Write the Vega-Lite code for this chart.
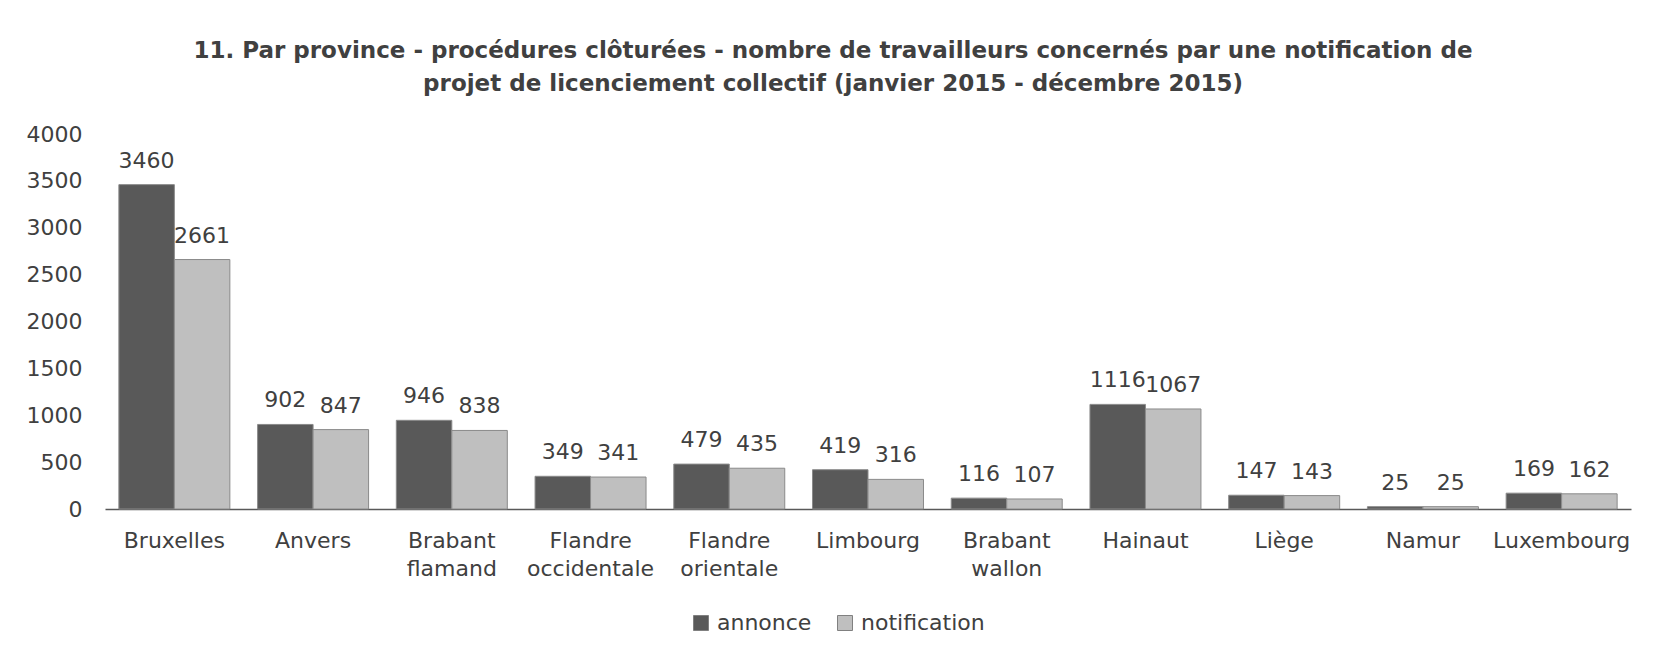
{
  "$schema": "https://vega.github.io/schema/vega-lite/v6.json",
  "width": 1526,
  "height": 375,
  "autosize": {"type": "none"},
  "padding": {"left": 105, "top": 134, "right": 22, "bottom": 148},
  "background": "white",
  "title": {
    "text": ["11. Par province - procédures clôturées - nombre de travailleurs concernés par une notification de", "projet de licenciement collectif (janvier 2015 - décembre 2015)"],
    "font": "DejaVu Sans",
    "fontSize": 23,
    "fontWeight": "bold",
    "color": "#404040",
    "anchor": "middle",
    "dx": -35,
    "offset": 27,
    "lineHeight": 33
  },
  "data": {
    "values": [
      {"province": "Bruxelles", "serie": "annonce", "value": 3460},
      {"province": "Bruxelles", "serie": "notification", "value": 2661},
      {"province": "Anvers", "serie": "annonce", "value": 902},
      {"province": "Anvers", "serie": "notification", "value": 847},
      {"province": "Brabant flamand", "serie": "annonce", "value": 946},
      {"province": "Brabant flamand", "serie": "notification", "value": 838},
      {"province": "Flandre occidentale", "serie": "annonce", "value": 349},
      {"province": "Flandre occidentale", "serie": "notification", "value": 341},
      {"province": "Flandre orientale", "serie": "annonce", "value": 479},
      {"province": "Flandre orientale", "serie": "notification", "value": 435},
      {"province": "Limbourg", "serie": "annonce", "value": 419},
      {"province": "Limbourg", "serie": "notification", "value": 316},
      {"province": "Brabant wallon", "serie": "annonce", "value": 116},
      {"province": "Brabant wallon", "serie": "notification", "value": 107},
      {"province": "Hainaut", "serie": "annonce", "value": 1116},
      {"province": "Hainaut", "serie": "notification", "value": 1067},
      {"province": "Liège", "serie": "annonce", "value": 147},
      {"province": "Liège", "serie": "notification", "value": 143},
      {"province": "Namur", "serie": "annonce", "value": 25},
      {"province": "Namur", "serie": "notification", "value": 25},
      {"province": "Luxembourg", "serie": "annonce", "value": 169},
      {"province": "Luxembourg", "serie": "notification", "value": 162}
    ]
  },
  "encoding": {
    "x": {
      "field": "province",
      "type": "nominal",
      "sort": ["Bruxelles", "Anvers", "Brabant flamand", "Flandre occidentale", "Flandre orientale", "Limbourg", "Brabant wallon", "Hainaut", "Liège", "Namur", "Luxembourg"],
      "scale": {"paddingInner": 0.2, "paddingOuter": 0.1},
      "axis": {
        "title": null,
        "labelAngle": 0,
        "labelExpr": "split(datum.label, ' ')",
        "labelFont": "DejaVu Sans",
        "labelFontSize": 22,
        "labelColor": "#404040",
        "labelPadding": 21,
        "labelLineHeight": 28,
        "labelBaseline": "top",
        "ticks": false,
        "domainColor": "#595959",
        "domainWidth": 1.5,
        "grid": false
      }
    },
    "xOffset": {"field": "serie", "type": "nominal", "sort": ["annonce", "notification"], "scale": {"paddingInner": 0, "paddingOuter": 0}},
    "y": {
      "field": "value",
      "type": "quantitative",
      "scale": {"domain": [0, 4000], "nice": false},
      "axis": {
        "title": null,
        "format": "d",
        "values": [0, 500, 1000, 1500, 2000, 2500, 3000, 3500, 4000],
        "labelFont": "DejaVu Sans",
        "labelFontSize": 22,
        "labelColor": "#404040",
        "labelPadding": 23,
        "ticks": false,
        "domain": false,
        "grid": false
      }
    }
  },
  "layer": [
    {
      "mark": {"type": "bar", "stroke": "#8a8a8a", "strokeWidth": 1},
      "encoding": {
        "color": {
          "field": "serie",
          "type": "nominal",
          "scale": {"domain": ["annonce", "notification"], "range": ["#595959", "#bfbfbf"]},
          "legend": {
            "title": null,
            "orient": "none",
            "legendX": 585,
            "legendY": 478,
            "direction": "horizontal",
            "symbolType": "square",
            "symbolSize": 225,
            "symbolStrokeColor": "#808080",
            "symbolStrokeWidth": 1,
            "labelFont": "DejaVu Sans",
            "labelFontSize": 22,
            "labelColor": "#404040",
            "columnPadding": 22,
            "labelOffset": 5
          }
        }
      }
    },
    {
      "mark": {"type": "text", "dy": -24, "font": "DejaVu Sans", "fontSize": 22, "color": "#404040"},
      "encoding": {"text": {"field": "value", "type": "quantitative"}}
    }
  ],
  "config": {"view": {"stroke": null}}
}
